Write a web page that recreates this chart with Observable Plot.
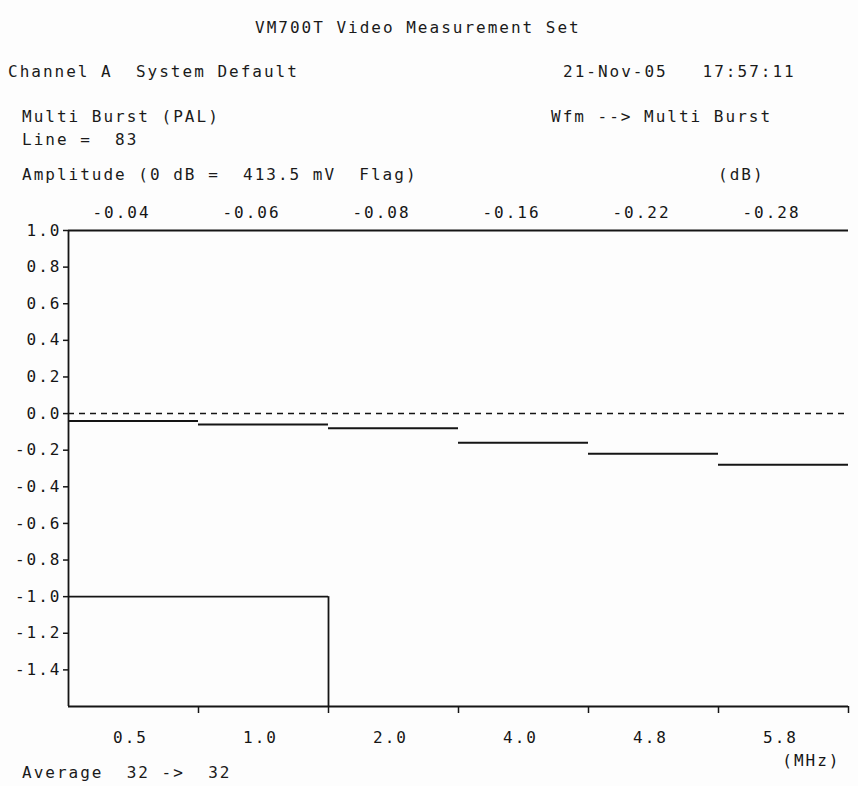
<!DOCTYPE html>
<html>
<head>
<meta charset="utf-8">
<script src="https://cdn.jsdelivr.net/npm/d3@7"></script>
<script src="https://cdn.jsdelivr.net/npm/@observablehq/plot@0.6"></script>
<style>
  html, body { margin: 0; padding: 0; background: #fdfdfd; }
  #page { position: relative; width: 858px; height: 786px; overflow: hidden;
          font-family: "DejaVu Sans Mono", monospace; font-size: 16px; letter-spacing: 2px; color: #1a1a1a; }
  .t { position: absolute; white-space: pre; line-height: 1; }
  #chart { position: absolute; left: 0; top: 0; }
</style>
</head>
<body>
<div id="page">
  <div id="chart"></div>
  <div class="t" style="left:255px; top:20px;">VM700T Video Measurement Set</div>
  <div class="t" style="left:8px; top:64px;">Channel A  System Default</div>
  <div class="t" style="left:563px; top:64px;">21-Nov-05   17:57:11</div>
  <div class="t" style="left:22px; top:109px;">Multi Burst (PAL)</div>
  <div class="t" style="left:551px; top:109px;">Wfm --> Multi Burst</div>
  <div class="t" style="left:22px; top:132px;">Line =  83</div>
  <div class="t" style="left:22px; top:167px;">Amplitude (0 dB =  413.5 mV  Flag)</div>
  <div class="t" style="left:718px; top:167px;">(dB)</div>
  <div class="t" style="left:22px; top:765px;">Average  32 ->  32</div>
</div>
<script>
// Packet frequencies (MHz) and measured amplitudes (dB)
const freqLabels = ["0.5", "1.0", "2.0", "4.0", "4.8", "5.8"];
const dbValues = [-0.04, -0.06, -0.08, -0.16, -0.22, -0.28];
const yTicks = [1.0, 0.8, 0.6, 0.4, 0.2, 0.0, -0.2, -0.4, -0.6, -0.8, -1.0, -1.2, -1.4];
const fullScale = 1.0;     // top reference line
const flagLevel = -1.0;    // flag reference level
const flagEnd = 2;         // flag spans first two packets
const yMin = -1.6;

const packets = freqLabels.map((f, i) => ({i, f, db: dbValues[i]}));
const boundaries = d3.range(1, freqLabels.length + 1);

const ink = "#151515";
const chart = Plot.plot({
  width: 858,
  height: 786,
  marginLeft: 68,
  marginRight: 10,
  marginTop: 230,
  marginBottom: 80,
  style: {background: "transparent", fontFamily: "DejaVu Sans Mono, monospace", fontSize: "16px", color: ink},
  x: {domain: [0, freqLabels.length], axis: null},
  y: {domain: [yMin, fullScale], axis: null},
  marks: [
    // left axis line and bottom axis line
    Plot.ruleX([0], {y1: yMin, y2: fullScale, stroke: ink, strokeWidth: 1.8}),
    Plot.ruleY([yMin], {x1: 0, x2: freqLabels.length, stroke: ink, strokeWidth: 1.8}),
    // full-scale line at 1.0
    Plot.ruleY([fullScale], {x1: 0, x2: freqLabels.length, stroke: ink, strokeWidth: 2}),
    // zero dashed line
    Plot.ruleY([0], {x1: 0, x2: freqLabels.length, stroke: ink, strokeWidth: 1.5, strokeDasharray: "6,5"}),
    // y ticks and labels
    Plot.axisY({ticks: yTicks, tickFormat: d => d.toFixed(1), tickSize: 5, tickPadding: 2,
      stroke: ink, strokeWidth: 1.5, fill: ink, fontSize: 16, letterSpacing: 1.5, label: null}),
    // bottom boundary ticks
    Plot.axisX({ticks: boundaries, tickFormat: () => "", tickSize: 7, stroke: ink, strokeWidth: 1.5, label: null}),
    // flag box
    Plot.ruleY([flagLevel], {x1: 0, x2: flagEnd, stroke: ink, strokeWidth: 1.8}),
    Plot.ruleX([flagEnd], {y1: flagLevel, y2: yMin, stroke: ink, strokeWidth: 1.8}),
    // measured levels
    Plot.ruleY(packets, {x1: d => d.i, x2: d => d.i + 1, y: "db", stroke: ink, strokeWidth: 2}),
    // top dB labels
    Plot.text(packets, {x: d => d.i + 0.5, y: fullScale, text: d => d.db.toFixed(2), dy: -18, dx: -12,
      fill: ink, fontSize: 16, letterSpacing: 2}),
    // bottom frequency labels
    Plot.text(packets, {x: d => d.i + 0.5, y: yMin, text: "f", dy: 31, dx: -3,
      fill: ink, fontSize: 16, letterSpacing: 2}),
    Plot.text(["(MHz)"], {x: freqLabels.length, y: yMin, text: d => d, dy: 54, dx: -8, textAnchor: "end",
      fill: ink, fontSize: 16, letterSpacing: 2})
  ]
});
document.getElementById("chart").appendChild(chart);
</script>
</body>
</html>
